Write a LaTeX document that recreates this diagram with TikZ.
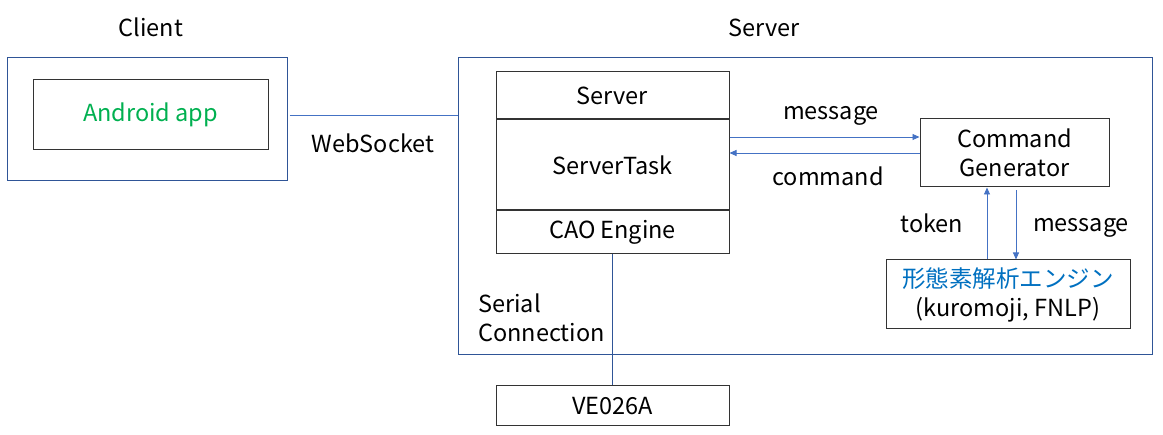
\documentclass[tikz,border=0pt]{standalone}
\usepackage{fontspec}
\setmainfont{Noto Sans CJK JP}
\usetikzlibrary{arrows.meta, positioning}
\definecolor{frameblue}{RGB}{47,85,151}
\definecolor{linkblue}{RGB}{68,114,196}
\definecolor{appgreen}{RGB}{0,176,80}
\definecolor{morphblue}{RGB}{0,112,192}

\begin{document}
\begin{tikzpicture}[
  x=1pt, y=-1pt,
  every node/.style={font=\fontsize{23.5}{29}\selectfont, inner sep=0pt},
  frame/.style={rectangle, draw=frameblue, line width=1pt},
  block/.style={rectangle, draw=black!80, line width=1pt, align=center, minimum width=233pt},
  lbl/.style={anchor=base},
  link/.style={linkblue, line width=0.9pt},
  arrow/.style={-{Triangle[length=7pt, width=6pt]}, linkblue, line width=0.9pt}
]
  \useasboundingbox (0,0) rectangle (1163,435);

  % frames
  \node[frame, minimum width=280pt, minimum height=123pt] (clientbox) at (147,119.5) {};
  \node[frame, minimum width=694pt, minimum height=297pt] (serverbox) at (805,206.5) {};
  \node[lbl] (clientlbl) at (151,37) {Client};
  \node[lbl] (serverlbl) at (764,37) {Server};

  % client side
  \node[block, minimum width=235pt, minimum height=70pt, text=appgreen] (app) at (150.5,115) {Android app};

  % server stack
  \node[block, minimum height=47pt] (srv) at (612.5,95.5) {Server};
  \node[block, minimum height=90pt, below=0pt of srv] (task) {ServerTask};
  \node[block, minimum height=43pt, below=0pt of task] (cao) {CAO Engine};
  \node[block, minimum height=40pt] (ve) at (612.5,406) {VE026A};

  \node[block, minimum width=189pt, minimum height=68pt] (cmdgen) at (1014.5,153) {Command\\Generator};
  \node[block, minimum width=244pt, minimum height=69pt] (morph) at (1008,294.5)
    {\textcolor{morphblue}{形態素解析エンジン}\\(kuromoji, FNLP)};

  % connectors
  \draw[link] (app.east -| clientbox.east) ++(2,0) -- (app.east -| serverbox.west);
  \draw[frameblue, line width=0.9pt] (cao.south) -- (ve.north);
  \draw[arrow] (task.east |- 0,137) -- (cmdgen.west |- 0,137);
  \draw[arrow] (cmdgen.west |- 0,153) -- (task.east |- 0,153);
  \draw[arrow] (morph.north -| 987,0) -- (cmdgen.south -| 987,0);
  \draw[arrow] ([yshift=-3pt]cmdgen.south -| 1016,0) -- (morph.north -| 1016,0);

  % labels
  \node[lbl] (wslbl) at (373,153) {WebSocket};
  \node[lbl] (msglbl) at (831,120) {message};
  \node[lbl] (cmdlbl) at (828,186) {command};
  \node[lbl] (toklbl) at (932,233) {token};
  \node[lbl] (msglbl2) at (1081,232) {message};
  \node[align=left, anchor=base west] (seriallbl) at (478,342) {Serial\\Connection};
\end{tikzpicture}
\end{document}
